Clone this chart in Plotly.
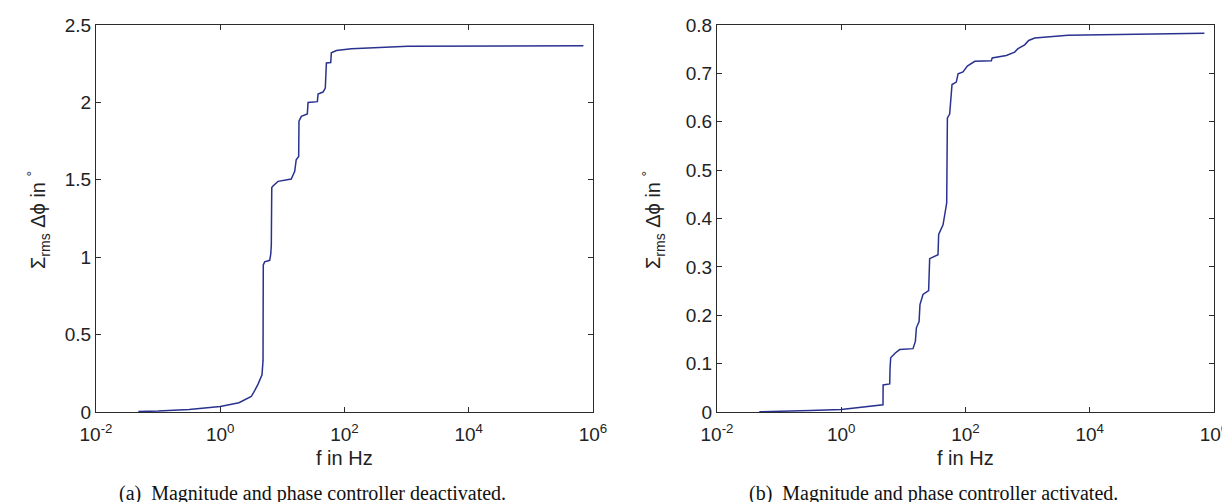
import plotly.graph_objects as go

# ---------------- data ----------------
freq_a = [0.048, 0.1, 0.316, 1.0, 2.0, 2.82, 3.16, 3.6, 4.06, 4.7, 4.88, 4.9, 4.93, 5.19, 6.25, 6.5,
          6.64, 6.7, 6.75, 7.06, 8.51, 13.9, 15.8, 16.7, 18.3, 18.5, 20.2, 25.2, 25.9, 36.6, 37.5,
          45.1, 49.1, 51.1, 60.0, 61.4, 74.0, 129, 1047, 7.0e5]
phi_a = [0.003, 0.006, 0.016, 0.035, 0.06, 0.09, 0.10, 0.14, 0.18, 0.24, 0.33, 0.6, 0.95, 0.97, 0.98, 1.02,
         1.08, 1.3, 1.45, 1.46, 1.49, 1.505, 1.555, 1.63, 1.65, 1.878, 1.91, 1.925, 2.0, 2.005, 2.054,
         2.067, 2.093, 2.255, 2.258, 2.32, 2.335, 2.347, 2.362, 2.366]

freq_b = [0.048, 0.1, 0.316, 1.0, 2.0, 3.5, 4.7, 4.72, 6.03, 6.1, 6.25, 7.41, 8.71, 14.3, 15.6, 16.2,
          17.9, 18.5, 20.7, 25.5, 26.5, 36.1, 37.0, 43.5, 47.3, 49.8, 51.1, 55.6, 60.7, 71.1, 75.9,
          91.2, 107, 141, 261, 269, 454, 619, 700, 897, 1040, 1300, 4467, 7.0e5]
phi_b = [0.0005, 0.001, 0.003, 0.005, 0.009, 0.013, 0.015, 0.056, 0.058, 0.09, 0.112, 0.122, 0.129, 0.131, 0.146, 0.174,
         0.187, 0.222, 0.243, 0.251, 0.317, 0.325, 0.367, 0.387, 0.411, 0.432, 0.608, 0.616, 0.677, 0.682, 0.699,
         0.703, 0.715, 0.725, 0.726, 0.732, 0.737, 0.744, 0.751, 0.759, 0.768, 0.773, 0.7787, 0.783]

x_tickvals = [1e-2, 1e0, 1e2, 1e4, 1e6]
x_ticktext = ["10<sup>-2</sup>", "10<sup>0</sup>", "10<sup>2</sup>", "10<sup>4</sup>", "10<sup>6</sup>"]
ya_tickvals = [0, 0.5, 1, 1.5, 2, 2.5]
ya_ticktext = ["0", "0.5", "1", "1.5", "2", "2.5"]
yb_tickvals = [0, 0.1, 0.2, 0.3, 0.4, 0.5, 0.6, 0.7, 0.8]
yb_ticktext = ["0", "0.1", "0.2", "0.3", "0.4", "0.5", "0.6", "0.7", "0.8"]

x_title = "f in Hz"
y_title = "Σ<sub>rms</sub> Δϕ in <sup>°</sup>"
captions = ["(a)  Magnitude and phase controller deactivated.",
            "(b)  Magnitude and phase controller activated."]

# ---------------- layout ----------------
W, H = 1230, 502
LINE = "#2a3290"
AX = "#2b2b2b"
SANS = "Liberation Sans, Arial, sans-serif"
SERIF = "Liberation Serif, Times New Roman, serif"

def px_x(p):
    return p / W

def px_y(p):
    return 1 - p / H

dom_a = [px_x(88), px_x(585)]
dom_b = [px_x(709), px_x(1206)]
dom_y = [px_y(404), px_y(17)]

fig = go.Figure()
fig.add_trace(go.Scatter(x=freq_a, y=phi_a, mode="lines", line=dict(color=LINE, width=1.5),
                         xaxis="x", yaxis="y", showlegend=False))
fig.add_trace(go.Scatter(x=freq_b, y=phi_b, mode="lines", line=dict(color=LINE, width=1.5),
                         xaxis="x2", yaxis="y2", showlegend=False))

common_x = dict(type="log", range=[-2, 6], tickvals=x_tickvals, ticktext=x_ticktext,
                ticks="inside", ticklen=5, tickcolor=AX, showline=True, linecolor=AX, linewidth=1.3,
                mirror="allticks", showgrid=False, zeroline=False, automargin=False,
                ticklabelstandoff=5,
                tickfont=dict(family=SANS, size=19, color="#222"))
common_y = dict(ticks="inside", ticklen=5, tickcolor=AX, showline=True, linecolor=AX, linewidth=1.3,
                mirror="allticks", showgrid=False, zeroline=False, automargin=False,
                tickfont=dict(family=SANS, size=19, color="#222"), domain=dom_y)

fig.update_layout(
    width=W, height=H, margin=dict(l=0, r=0, t=0, b=0, autoexpand=False),
    paper_bgcolor="white", plot_bgcolor="white",
    xaxis=dict(domain=dom_a, anchor="y", **common_x),
    xaxis2=dict(domain=dom_b, anchor="y2", **common_x),
    yaxis=dict(anchor="x", range=[0, 2.5], tickvals=ya_tickvals, ticktext=ya_ticktext, **common_y),
    yaxis2=dict(anchor="x2", range=[0, 0.8], tickvals=yb_tickvals, ticktext=yb_ticktext, **common_y),
)

ann = []
for cx in [(88 + 585) / 2, (709 + 1206) / 2]:
    ann.append(dict(text=x_title, x=px_x(cx), y=px_y(450), xref="paper", yref="paper",
                    xanchor="center", yanchor="middle", showarrow=False,
                    font=dict(family=SANS, size=20, color="#222")))
for cx in [30, 645]:
    ann.append(dict(text=y_title, x=px_x(cx), y=px_y(212), xref="paper", yref="paper",
                    xanchor="center", yanchor="middle", showarrow=False, textangle=-90,
                    font=dict(family=SANS, size=20, color="#222")))
for cx, cap in zip([304, 925], captions):
    ann.append(dict(text=cap, x=px_x(cx), y=px_y(485), xref="paper", yref="paper",
                    xanchor="center", yanchor="middle", showarrow=False,
                    font=dict(family=SERIF, size=20, color="#111")))
fig.update_layout(annotations=ann)

fig.write_html("out.html")
